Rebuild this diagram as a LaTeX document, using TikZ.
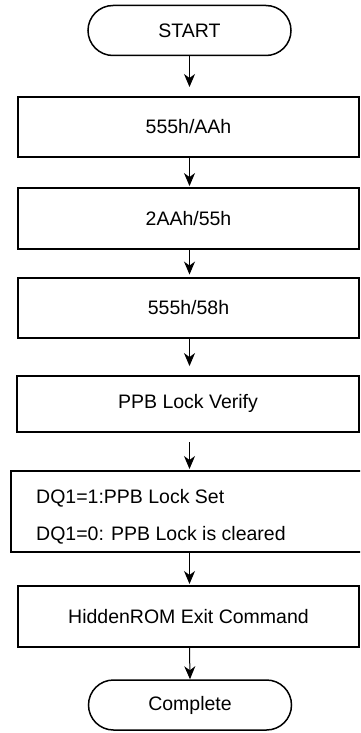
\documentclass[tikz,border=0pt]{standalone}
\usepackage{fontspec}
\setmainfont{Liberation Sans}
\usetikzlibrary{arrows.meta}
\begin{document}
\begin{tikzpicture}[x=1pt,y=1pt,
  every node/.style={font=\fontsize{19.5}{23}\selectfont, inner sep=0pt},
  term/.style={draw, line width=1.5pt, rounded corners=25pt, minimum width=203pt, minimum height=50pt},
  stepbox/.style={draw, line width=2pt, minimum width=341pt},
  arr/.style={line width=1pt, -{Stealth[length=13pt, width=11pt, inset=4pt]}}
]
\useasboundingbox (0,0) rectangle (360,-733);
\begin{scope}
\clip (0,0) rectangle (360,-733);
\node[term] (start) at (189.5,-30.5) {START};
\node[stepbox, minimum height=60pt] (b1) at (188.5,-127) {555h/AAh};
\node[stepbox, minimum height=60.5pt] (b2) at (188.5,-218.3) {2AAh/55h};
\node[stepbox, minimum height=60.5pt] (b3) at (188.5,-307.8) {555h/58h};
\node[stepbox, minimum height=55.5pt, minimum width=342pt] (b4) at (188,-403.8) {PPB Lock Verify};
\node[stepbox, minimum height=81pt, minimum width=370pt] (b5) at (196,-511.5) {};
\node[anchor=west] (t1) at (36,-498) {DQ1=1:PPB Lock Set};
\node[anchor=west] (t2) at (36,-535) {DQ1=0: PPB Lock is cleared};
\node[stepbox, minimum height=61pt] (b6) at (188.5,-616.5) {HiddenROM Exit Command};
\node[term] (end) at (190,-705) {Complete};
\draw[arr, shorten >=9pt] (start.south) -- (start.south |- b1.north);
\draw[arr, shorten >=1pt] (start.south |- b1.south) -- (start.south |- b2.north);
\draw[arr, shorten >=2pt] (start.south |- b2.south) -- (start.south |- b3.north);
\draw[arr, shorten >=9pt] (start.south |- b3.south) -- (start.south |- b4.north);
\draw[arr, shorten <=9.5pt, shorten >=1pt] (start.south |- b4.south) -- (start.south |- b5.north);
\draw[arr, shorten >=1pt] (start.south |- b5.south) -- (start.south |- b6.north);
\draw[arr] (start.south |- b6.south) -- (end.north);
\end{scope}
\end{tikzpicture}
\end{document}
